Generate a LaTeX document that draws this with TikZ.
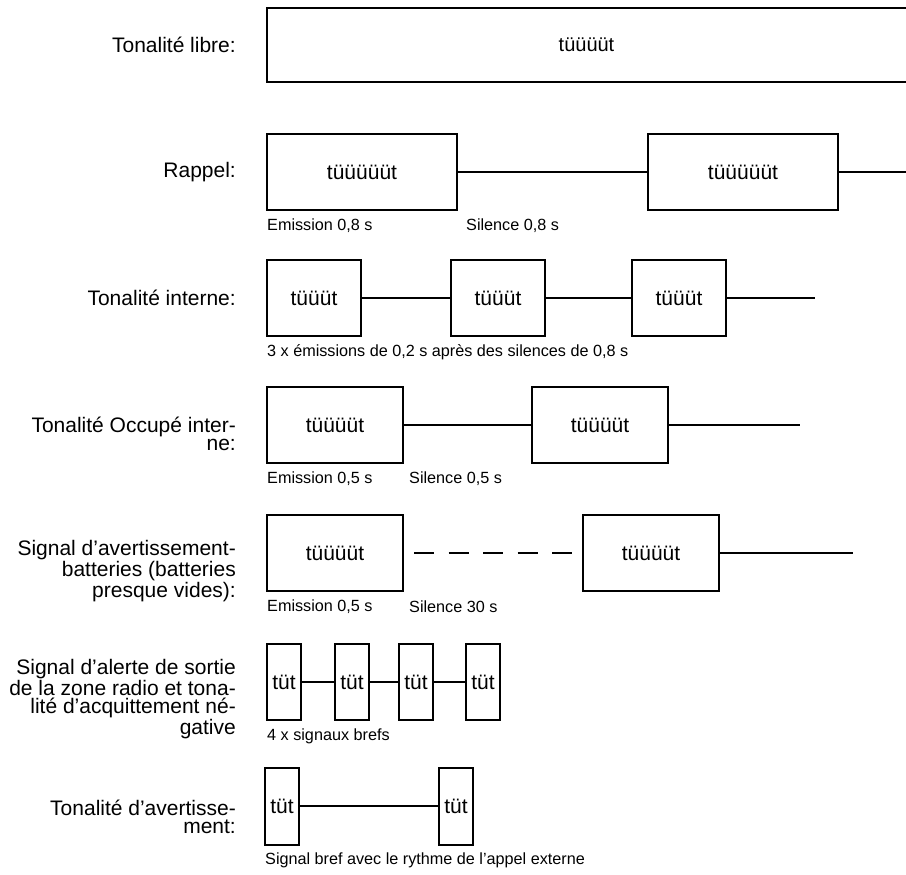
\documentclass[tikz,border=0pt]{standalone}
\usepackage{fontspec}
\setmainfont{Liberation Sans}
\usetikzlibrary{positioning}

\newcommand{\lblsize}{\fontsize{21}{18.5}\selectfont}
\newcommand{\sigsize}{\fontsize{21}{24}\selectfont}
\newcommand{\capsize}{\fontsize{16.2}{19}\selectfont}

\begin{document}
\begin{tikzpicture}[x=1pt, y=-1pt,
    lbl/.style={anchor=east, align=right, inner sep=0pt, font=\lblsize},
    sig/.style={draw, line width=2pt, inner sep=0pt, outer sep=0pt,
                minimum height=76pt, font=\sigsize},
    captxt/.style={anchor=west, inner sep=0pt, font=\capsize},
    wire/.style={line width=2pt},
    pause/.style={wire, dash pattern=on 20pt off 14.5pt}
  ]
    \useasboundingbox (0,0) rectangle (906,875);

    \node[lbl] (l1) at (236,45) {Tonalité libre:};
    \node[sig, draw=none, minimum width=639pt, minimum height=74pt,
          font=\fontsize{20}{24}\selectfont] (r1) at (586.5,45) {tüüüüt};
    \draw[wire] (r1.north east) -- (r1.north west) -- (r1.south west) -- (r1.south east);

    \node[lbl] (l2) at (236,172) {Rappel:};
    \node[sig, minimum width=190pt] (r2a) at (362,172) {tüüüüüt};
    \node[sig, minimum width=190pt, right=191pt of r2a] (r2b) {tüüüüüt};
    \coordinate (e2) at (906,172);
    \draw[wire] (r2a) -- (r2b);
    \draw[wire] (r2b) -- (e2);
    \node[captxt] (c2a) at ([yshift=-16pt]r2a.south west) {Emission 0,8 s};
    \node[captxt] (c2b) at ([xshift=9pt, yshift=-16pt]r2a.south east) {Silence 0,8 s};

    \node[lbl] (l3) at (236,298) {Tonalité interne:};
    \node[sig, minimum width=94pt] (r3a) at (314,298) {tüüüt};
    \node[sig, minimum width=94pt, right=90pt of r3a] (r3b) {tüüüt};
    \node[sig, minimum width=94pt, right=87pt of r3b] (r3c) {tüüüt};
    \coordinate (e3) at (815,298);
    \draw[wire] (r3a) -- (r3b);
    \draw[wire] (r3b) -- (r3c);
    \draw[wire] (r3c) -- (e3);
    \node[captxt] (c3) at ([yshift=-16pt]r3a.south west) {3 x émissions de 0,2 s après des silences de 0,8 s};

    \node[lbl] (l4) at (236,434) {Tonalité Occupé inter-\\ne:};
    \node[sig, minimum width=136pt] (r4a) at (335,425) {tüüüüt};
    \node[sig, minimum width=136pt, right=129pt of r4a] (r4b) {tüüüüt};
    \coordinate (e4) at (800,425);
    \draw[wire] (r4a) -- (r4b);
    \draw[wire] (r4b) -- (e4);
    \node[captxt] (c4a) at ([yshift=-16pt]r4a.south west) {Emission 0,5 s};
    \node[captxt] (c4b) at ([xshift=6pt, yshift=-16pt]r4a.south east) {Silence 0,5 s};

    \node[lbl] (l5) at (236,571) {Signal d’avertissement-\\batteries (batteries\\presque vides):};
    \node[sig, minimum width=136pt] (r5a) at (335,553) {tüüüüt};
    \node[sig, minimum width=136pt, right=180pt of r5a] (r5b) {tüüüüt};
    \coordinate (e5) at (853,553);
    \draw[pause, shorten <=11pt, shorten >=11pt] (r5a) -- (r5b);
    \draw[wire] (r5b) -- (e5);
    \node[captxt] (c5a) at ([yshift=-16pt]r5a.south west) {Emission 0,5 s};
    \node[captxt] (c5b) at ([xshift=6pt, yshift=-16pt]r5a.south east) {Silence 30 s};

    \node[lbl] (l6) at (236,699) {Signal d’alerte de sortie\\de la zone radio et tona-\\lité d’acquittement né-\\gative};
    \node[sig, minimum width=34pt] (r6a) at (284,682) {tüt};
    \node[sig, minimum width=34pt, right=34pt of r6a] (r6b) {tüt};
    \node[sig, minimum width=34pt, right=30pt of r6b] (r6c) {tüt};
    \node[sig, minimum width=34pt, right=33pt of r6c] (r6d) {tüt};
    \draw[wire] (r6a) -- (r6b);
    \draw[wire] (r6b) -- (r6c);
    \draw[wire] (r6c) -- (r6d);
    \node[captxt] (c6) at ([yshift=-16pt]r6a.south west) {4 x signaux brefs};

    \node[lbl] (l7) at (236,817) {Tonalité d’avertisse-\\ment:};
    \node[sig, minimum width=34pt, minimum height=77pt] (r7a) at (282,806) {tüt};
    \node[sig, minimum width=34pt, minimum height=77pt, right=140pt of r7a] (r7b) {tüt};
    \draw[wire] (r7a) -- (r7b);
    \node[captxt] (c7) at ([yshift=-16pt]r7a.south west) {Signal bref avec le rythme de l’appel externe};
  \end{tikzpicture}
\end{document}
